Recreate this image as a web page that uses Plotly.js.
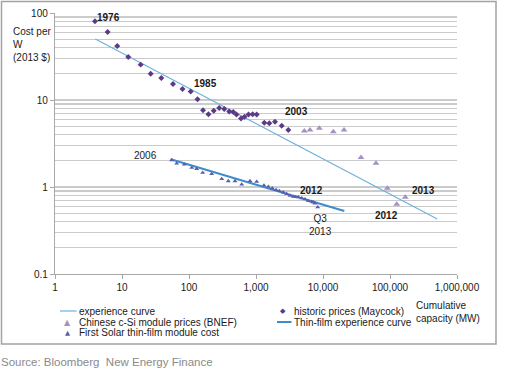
<!DOCTYPE html>
<html>
<head>
<meta charset="utf-8">
<script src="https://cdn.plot.ly/plotly-3.0.1.min.js"></script>
<style>html,body{margin:0;padding:0;background:#fff;}#chart{width:510px;height:382px;}</style>
</head>
<body>
<div id="chart"></div>
<script>
// ---- data ----
const maycockX = [3.95, 6.1, 8.5, 12.4, 19, 26.8, 38.6, 57.7, 80, 106, 134, 162, 195, 234, 282, 336, 398, 458, 512, 597, 673, 773, 893, 1024, 1330, 1581, 1921, 2420, 3034];
const maycockY = [80.3, 60.5, 41.8, 31.2, 25.5, 20.0, 17.9, 15.3, 13.4, 12.5, 10.2, 7.64, 6.87, 7.54, 8.09, 7.88, 7.38, 7.28, 6.81, 6.12, 6.43, 6.81, 6.85, 6.81, 5.48, 5.40, 5.63, 5.07, 4.52];
const chinaX = [5260, 6400, 8810, 14250, 20600, 36900, 61800, 91200, 126000, 169000];
const chinaY = [4.41, 4.52, 4.73, 4.33, 4.52, 2.19, 1.87, 0.966, 0.632, 0.762];
const fsX = [55.2, 65.5, 85.1, 110, 130, 160, 218, 308, 386, 486, 612, 813, 1024, 1316, 1527, 1751, 1990, 2228, 2555, 2871, 3215, 3605, 3915, 4280, 4810, 5390, 6040, 6780, 7170, 7600, 8340];
const fsY = [2.04, 1.87, 1.82, 1.67, 1.61, 1.46, 1.41, 1.24, 1.17, 1.17, 1.07, 1.17, 1.15, 1.04, 1.01, 0.966, 0.924, 0.900, 0.869, 0.832, 0.795, 0.774, 0.77, 0.762, 0.742, 0.723, 0.691, 0.678, 0.667, 0.650, 0.585];
const expX = [4, 508000];
const expY = [50.2, 0.428];
const thinX = [53.3, 20800];
const thinY = [2.08, 0.53];
const labelText = ["1976", "1985", "2003", "2006", "2012", "Q3<br>2013", "2013", "2012"];
const labelX = [6.2, 177, 4050, 22.6, 6620, 9300, 314000, 89000];
const labelY = [89.3, 15.6, 7.35, 2.33, 0.905, 0.37, 0.905, 0.468];
const labelBold = [true, true, true, false, true, false, true, true];
const seriesNames = ["experience curve", "Chinese c-Si module prices (BNEF)", "First Solar thin-film module cost", "historic prices (Maycock)", "Thin-film experience curve"];
const xTitle = "Cumulative<br>capacity (MW)";
const yTitle = "Cost per<br>W<br>(2013 $)";
const sourceText = "Source: Bloomberg&nbsp; New Energy Finance";

// ---- styles ----
const FONT = "Liberation Sans, Arial, sans-serif";
const C_EXP = "#6db1dd", C_THIN = "#3d8ccb", C_MAY = "#5b3b88", C_CHN = "#a591c6", C_FS = "#5a5eae";
const ML = 55, MR = 53, MT = 13, MB = 108, W = 510, H = 382;
const PW = W - ML - MR, PH = H - MT - MB;
const PX = px => (px - ML) / PW;
const PY = py => (H - MB - py) / PH;

const traces = [
  {x: expX, y: expY, mode: "lines", name: seriesNames[0], line: {color: C_EXP, width: 1.2}},
  {x: thinX, y: thinY, mode: "lines", name: seriesNames[4], line: {color: C_THIN, width: 2}},
  {x: maycockX, y: maycockY, mode: "markers", name: seriesNames[3], marker: {symbol: "diamond", size: 4.6, color: C_MAY}},
  {x: chinaX, y: chinaY, mode: "markers", name: seriesNames[1], marker: {symbol: "triangle-up", size: 6, color: C_CHN}},
  {x: fsX, y: fsY, mode: "markers", name: seriesNames[2], marker: {symbol: "triangle-up", size: 4.4, color: C_FS}}
];

const annotations = [];
labelText.forEach((t, i) => {
  annotations.push({
    x: Math.log10(labelX[i]), y: Math.log10(labelY[i]), xref: "x", yref: "y",
    text: labelBold[i] ? "<b>" + t + "</b>" : t, showarrow: false,
    font: {family: FONT, size: 10, color: "#1a1a1a"}, align: "center"
  });
});
// axis titles
annotations.push({xref: "paper", yref: "paper", x: PX(11), y: PY(44.5), xanchor: "left", yanchor: "middle",
  text: yTitle, align: "left", showarrow: false, font: {family: FONT, size: 10, color: "#1a1a1a"}});
annotations.push({xref: "paper", yref: "paper", x: PX(414), y: PY(311.5), xanchor: "left", yanchor: "middle",
  text: xTitle, align: "left", showarrow: false, font: {family: FONT, size: 10, color: "#1a1a1a"}});
// source
annotations.push({xref: "paper", yref: "paper", x: PX(-1), y: PY(362), xanchor: "left", yanchor: "middle",
  text: sourceText, showarrow: false, font: {family: FONT, size: 11.5, color: "#8a8a8a"}});

// custom legend (two columns)
const legendFont = {family: FONT, size: 10, color: "#1a1a1a"};
const legendItems = [
  {name: seriesNames[0], kind: "line", color: C_EXP, w: 1.2, x: 60, tx: 77, y: 311},
  {name: seriesNames[1], kind: "\u25B2", color: C_CHN, fs: 8, x: 67, tx: 77, y: 322},
  {name: seriesNames[2], kind: "\u25B2", color: C_FS, fs: 6.5, x: 67, tx: 77, y: 332.5},
  {name: seriesNames[3], kind: "\u25C6", color: C_MAY, fs: 7, x: 283, tx: 292, y: 311},
  {name: seriesNames[4], kind: "line", color: C_THIN, w: 2, x: 277, tx: 292, y: 322}
];
const shapes = [
  {type: "rect", xref: "paper", yref: "paper", x0: PX(1.5), x1: PX(496), y0: PY(1.5), y1: PY(344),
   line: {color: "#a3a3a3", width: 1.5}, fillcolor: "rgba(0,0,0,0)", layer: "below"}
];
legendItems.forEach(it => {
  if (it.kind === "line") {
    shapes.push({type: "line", xref: "paper", yref: "paper", x0: PX(it.x), x1: PX(it.tx - 0.5), y0: PY(it.y), y1: PY(it.y),
      line: {color: it.color, width: it.w}});
  } else {
    annotations.push({xref: "paper", yref: "paper", x: PX(it.x), y: PY(it.y), xanchor: "center", yanchor: "middle",
      text: it.kind, showarrow: false, font: {family: "DejaVu Sans", size: it.fs, color: it.color}});
  }
  annotations.push({xref: "paper", yref: "paper", x: PX(it.tx), y: PY(it.y), xanchor: "left", yanchor: "middle",
    text: it.name, showarrow: false, font: legendFont});
});

const gridColor = "#cbcbcb";
const layout = {
  width: W, height: H,
  margin: {l: ML, r: MR, t: MT, b: MB, pad: 0},
  paper_bgcolor: "#ffffff", plot_bgcolor: "#ffffff",
  showlegend: false,
  font: {family: FONT, size: 10, color: "#1a1a1a"},
  xaxis: {
    type: "log", range: [0, 6], dtick: 1, tickformat: ",", showgrid: false, zeroline: false,
    showline: true, linecolor: "#a8a8a8", linewidth: 1.2,
    ticks: "outside", ticklen: 4, tickcolor: "#a8a8a8",
    tickfont: {family: FONT, size: 10, color: "#1a1a1a"}
  },
  yaxis: {
    type: "log", range: [-1, 2], dtick: 1, showgrid: true, gridcolor: gridColor, gridwidth: 1.3, zeroline: false,
    showline: true, linecolor: "#a8a8a8", linewidth: 1.2,
    ticks: "outside", ticklen: 4, tickcolor: "#a8a8a8",
    tickfont: {family: FONT, size: 10, color: "#1a1a1a"},
    minor: {dtick: "D1", showgrid: true, gridcolor: gridColor, gridwidth: 1.3, ticks: ""}
  },
  annotations: annotations,
  shapes: shapes
};

Plotly.newPlot("chart", traces, layout, {displayModeBar: false, staticPlot: true});
</script>
</body>
</html>
